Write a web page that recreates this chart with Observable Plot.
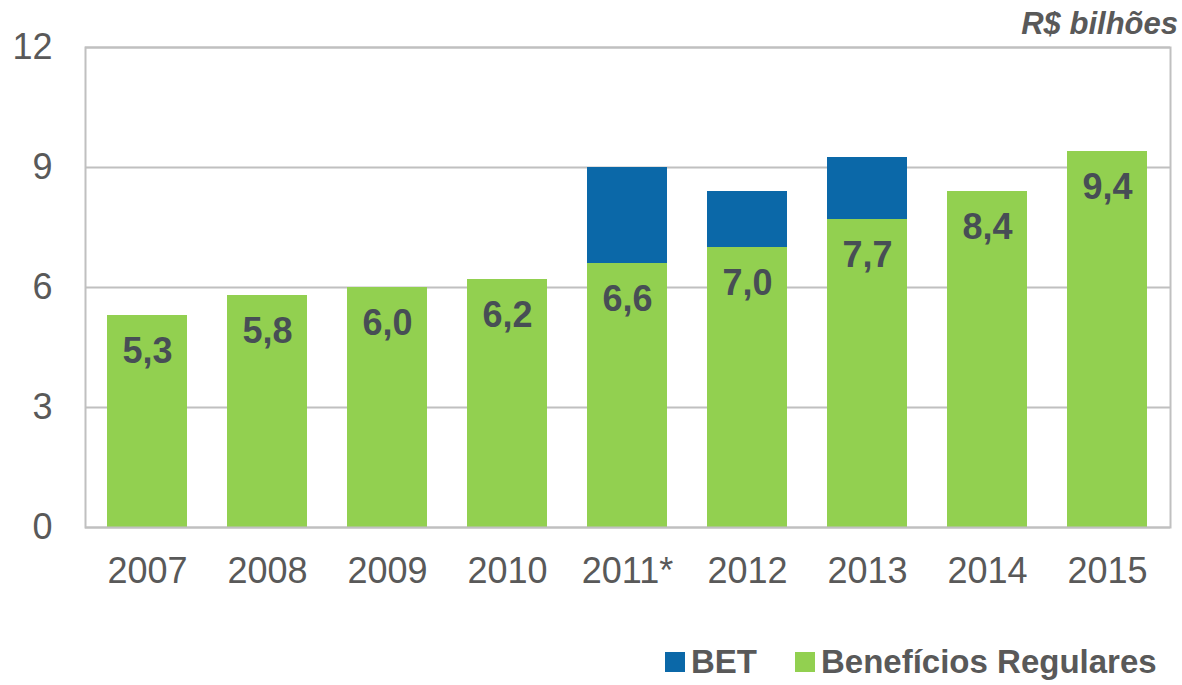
<!DOCTYPE html>
<html>
<head>
<meta charset="utf-8">
<script src="https://cdn.jsdelivr.net/npm/d3@7"></script>
<script src="https://cdn.jsdelivr.net/npm/@observablehq/plot@0.6"></script>
<style>
  html, body { margin: 0; padding: 0; background: #fff; }
  #wrap { position: relative; width: 1182px; height: 685px; overflow: hidden; font-family: "Liberation Sans", Arial, sans-serif; }
  #unit { position: absolute; right: 4px; top: 8px; font-size: 31px; font-weight: bold; font-style: italic; color: #595959; line-height: 1; }
  #legend { position: absolute; left: 665px; top: 645px; display: flex; align-items: center; font-size: 33px; font-weight: bold; color: #595959; line-height: 1.05; }
  .sw { display: inline-block; width: 20px; height: 20px; margin-right: 6px; }
  .item { display: flex; align-items: center; }
</style>
</head>
<body>
<div id="wrap">
  <div id="chart"></div>
  <div id="unit">R$ bilhões</div>
  <div id="legend"></div>
</div>
<script>
const years = ["2007", "2008", "2009", "2010", "2011*", "2012", "2013", "2014", "2015"];
const regulares = [5.3, 5.8, 6.0, 6.2, 6.6, 7.0, 7.7, 8.4, 9.4];
const bet = [0, 0, 0, 0, 2.4, 1.4, 1.55, 0, 0];
const seriesNames = ["Benefícios Regulares", "BET"];
const seriesColors = ["#92d050", "#0b68a8"];
const yTicks = [0, 3, 6, 9, 12];

const rows = [];
years.forEach((y, i) => {
  rows.push({year: y, series: seriesNames[0], value: regulares[i]});
  rows.push({year: y, series: seriesNames[1], value: bet[i]});
});
const labels = years.map((y, i) => ({year: y, value: regulares[i]}));
const fmt = v => d3.format(".1f")(v).replace(".", ",");

const chart = Plot.plot({
  width: 1182,
  height: 620,
  marginTop: 47,
  marginBottom: 93,
  marginLeft: 85,
  marginRight: 12,
  style: {fontFamily: "'Liberation Sans', Arial, sans-serif", background: "#fff"},
  x: {domain: years, paddingInner: 0.33, paddingOuter: 0.165, label: null},
  y: {domain: [0, 12], ticks: yTicks, label: null},
  color: {domain: seriesNames, range: seriesColors},
  marks: [
    Plot.ruleY(yTicks, {stroke: "#c0c0c0", strokeWidth: 2}),
    Plot.barY(rows, {x: "year", y: "value", fill: "series", order: seriesNames}),
    Plot.frame({stroke: "#c0c0c0", strokeWidth: 2}),
    Plot.text(labels, {x: "year", y: "value", text: d => fmt(d.value), dy: 36, fontSize: 36, fontWeight: "bold", fill: "#474e55"}),
    Plot.axisX({tickSize: 0, tickPadding: 30, fontSize: 36, fill: "#595959", label: null}),
    Plot.axisY({ticks: yTicks, tickSize: 0, tickPadding: 33, fontSize: 36, fill: "#595959", label: null})
  ]
});
document.getElementById("chart").appendChild(chart);

const legend = document.getElementById("legend");
[["BET", seriesColors[1], 130], ["Benefícios Regulares", seriesColors[0], 0]].forEach(([name, col, w]) => {
  const it = document.createElement("div");
  it.className = "item";
  it.innerHTML = `<span class="sw" style="background:${col}"></span><span>${name}</span>`;
  if (w) it.style.width = w + "px";
  legend.appendChild(it);
});
</script>
</body>
</html>
